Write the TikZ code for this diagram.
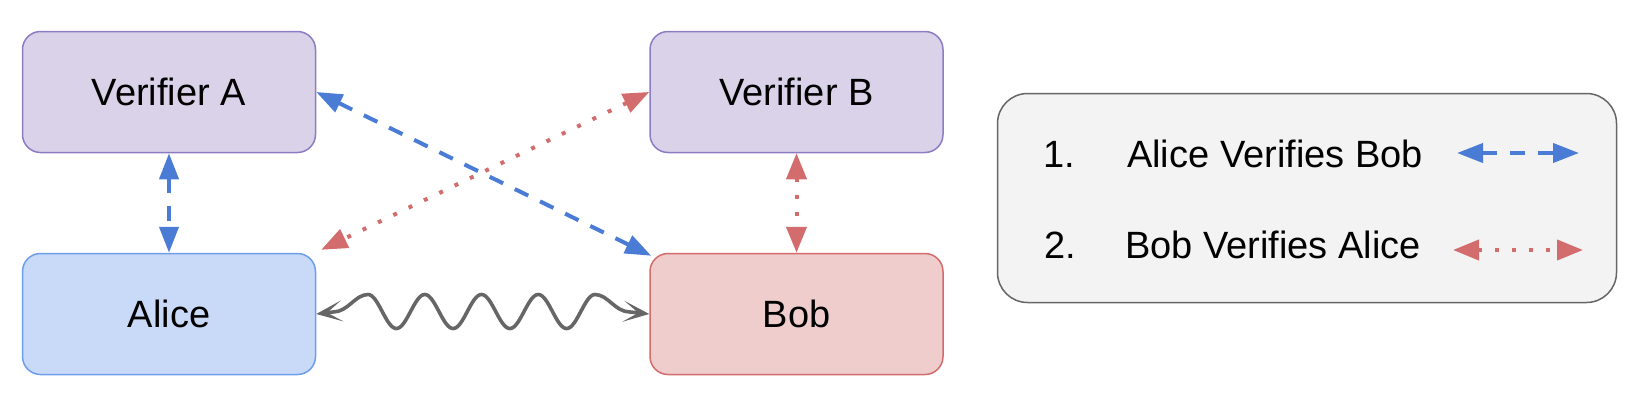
\documentclass[tikz,border=0pt]{standalone}
\usepackage{fontspec}
\setmainfont{Liberation Sans}
\usetikzlibrary{arrows.meta,calc}
\definecolor{verfill}{HTML}{D9D2E9}
\definecolor{verdraw}{HTML}{8E7CC3}
\definecolor{alicefill}{HTML}{C9DAF8}
\definecolor{alicedraw}{HTML}{6D9EEB}
\definecolor{bobfill}{HTML}{EFCDCD}
\definecolor{bobdraw}{HTML}{D46B6B}
\definecolor{bluearr}{HTML}{4A7CD6}
\definecolor{redarr}{HTML}{D36C6C}
\definecolor{legfill}{HTML}{F3F3F3}
\definecolor{legdraw}{HTML}{666666}
\definecolor{wavecol}{HTML}{666666}
\begin{document}
\begin{tikzpicture}[x=1pt,y=-1pt,
  every node/.style={font=\fontsize{38}{46}\selectfont},
  boxstyle/.style={rectangle, rounded corners=18pt, line width=1.5pt,
    minimum width=293pt, minimum height=121pt, inner sep=0pt},
  verbox/.style={boxstyle, fill=verfill, draw=verdraw},
  alicebox/.style={boxstyle, fill=alicefill, draw=alicedraw},
  bobbox/.style={boxstyle, fill=bobfill, draw=bobdraw},
  blueline/.style={draw=bluearr, line width=4pt, dash pattern=on 15pt off 13pt,
    {Triangle[length=26pt,width=19pt]}-{Triangle[length=26pt,width=19pt]}},
  redline/.style={draw=redarr, line width=4pt, dash pattern=on 4pt off 13pt,
    {Triangle[length=26pt,width=20pt]}-{Triangle[length=26pt,width=20pt]}},
  waveline/.style={draw=wavecol, line width=3.6pt, line join=round,
    {Stealth[length=26pt,width=21pt,inset=15pt]}-{Stealth[length=26pt,width=21pt,inset=15pt]}},
  legtext/.style={anchor=base west, inner sep=0pt}
]
\useasboundingbox (0,0) rectangle (1646,402);

\node[verbox] (verA) at (169,92) {Verifier A};
\node[alicebox] (alice) at (169,314) {Alice};
\node[verbox] (verB) at (796.5,92) {Verifier B};
\node[bobbox] (bob) at (796.5,314) {Bob};

% legend
\node[draw=legdraw, fill=legfill, line width=1.5pt, rounded corners=30pt,
  minimum width=619pt, minimum height=209pt, inner sep=0pt] (legend) at (1307,198) {};
\node[legtext] (n1) at (1043,167) {1.};
\node[legtext] (t1) at (1127,167) {Alice Verifies Bob};
\node[legtext] (n2) at (1044,258) {2.};
\node[legtext] (t2) at (1125,258) {Bob Verifies Alice};
\coordinate (l1a) at (1457,153);
\coordinate (l1b) at (1579,153);
\coordinate (l2a) at (1453,250);
\coordinate (l2b) at (1583,250);

% connectors
\draw[blueline] (verA.south) -- (alice.north);
\draw[blueline] (verA.east) -- ($(bob.north west)+(2,3)$);
\draw[redline] (verB.west) -- ($(alice.north east)+(5,-3)$);
\draw[redline] (verB.south) -- (bob.north);
\draw[blueline] (l1a) -- (l1b);
\draw[redline] (l2a) -- (l2b);

\draw[waveline] (alice.east) -- (333,312)
  .. controls (348,312) and (355,294.5) .. (368,294.5)
  -- plot[domain=368:595, samples=161] (\x,{311.5-17*cos((\x-368)/56.75*360)})
  .. controls (608,294.5) and (615,312) .. (630,312) -- (bob.west);
\end{tikzpicture}
\end{document}
